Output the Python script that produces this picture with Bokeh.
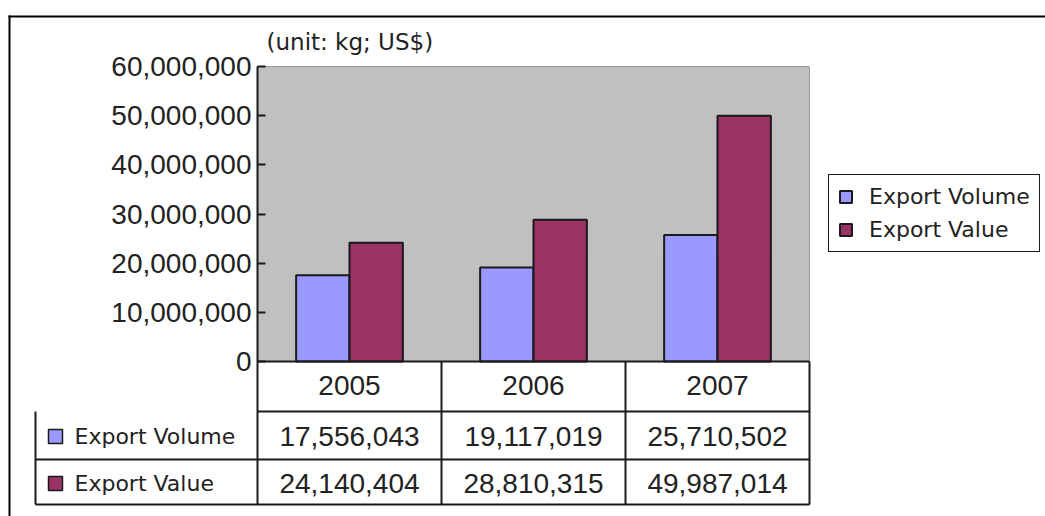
from bokeh.plotting import figure
from bokeh.models import (Range1d, NumeralTickFormatter, FixedTicker,
                          Legend, LegendItem, ColumnDataSource)
from bokeh.core.properties import value
from bokeh.embed import file_html
from bokeh.resources import INLINE

# ---- data ----
years = ["2005", "2006", "2007"]
export_volume = [17556043, 19117019, 25710502]
export_value = [24140404, 28810315, 49987014]
series_names = ["Export Volume", "Export Value"]
series_colors = ["#9999FF", "#993366"]
y_ticks = [0, 10000000, 20000000, 30000000, 40000000, 50000000, 60000000]
y_max = 60000000
title_text = "(unit: kg; US$)"

# ---- layout (page pixels) ----
W, H = 1045, 516
PLOT_L, PLOT_R, PLOT_T, PLOT_B = 257, 809, 66, 361
n = len(years)
COL_W = (PLOT_R - PLOT_L) / n
PX_PER_VAL = (PLOT_B - PLOT_T) / y_max
ROW_LINES = [411, 459, 504]          # bottoms of header / row1 / row2
ROW_CENTERS = [436, 483]
TABLE_L = 35
INK = "#1a1a1a"
TXT = "#222222"
NUM_FONT = "Liberation Sans"
LBL_FONT = "DejaVu Sans"

x_start = -PLOT_L / COL_W
x_end = (W - PLOT_L) / COL_W
y_start = -(H - PLOT_B) / PX_PER_VAL
y_end = y_max + PLOT_T / PX_PER_VAL

p = figure(width=W, height=H, x_range=Range1d(x_start, x_end), y_range=Range1d(y_start, y_end),
           output_backend="svg", toolbar_location=None,
           min_border=0, min_border_left=0, min_border_right=0, min_border_top=0,
           min_border_bottom=0,
           background_fill_color="white", border_fill_color="white",
           outline_line_color=None)
p.extra_x_ranges = {"px": Range1d(0, W)}
p.extra_y_ranges = {"px": Range1d(H, 0)}
p.xgrid.grid_line_color = None
p.ygrid.grid_line_color = None

# gray plot area
p.quad(left=[0], right=[n], bottom=[0], top=[y_max], fill_color="#C0C0C0",
       line_color="#9a9a9a", line_width=1)

idx = list(range(n))
src = ColumnDataSource(dict(
    xv=[i + 0.5 - 0.145 for i in idx], xw=[i + 0.5 + 0.145 for i in idx],
    vol=export_volume, val=export_value))
r1 = p.vbar(x="xv", top="vol", width=0.29, source=src,
            fill_color=series_colors[0], line_color=INK, line_width=2)
r2 = p.vbar(x="xw", top="val", width=0.29, source=src,
            fill_color=series_colors[1], line_color=INK, line_width=2)

# y axis at the left edge of the plot area
yax = p.yaxis[0]
yax.fixed_location = 0
yax.bounds = (0, y_max)
yax.ticker = FixedTicker(ticks=y_ticks)
yax.formatter = NumeralTickFormatter(format="0,0")
yax.major_label_text_font = NUM_FONT
yax.major_label_text_font_size = "28px"
yax.major_label_text_color = TXT
yax.axis_line_color = INK
yax.axis_line_width = 2
yax.major_tick_line_color = INK
yax.major_tick_line_width = 2
yax.major_tick_in = 8
yax.major_tick_out = 0
yax.minor_tick_line_color = None
yax.major_label_standoff = 6

# x axis (category labels) at value 0
xax = p.xaxis[0]
xax.fixed_location = 0
xax.bounds = (0, n)
cat_ticks = [i + 0.5 for i in idx]
xax.ticker = FixedTicker(ticks=cat_ticks)
xax.major_label_overrides = {t: y for t, y in zip(cat_ticks, years)}
xax.axis_line_color = INK
xax.axis_line_width = 2
xax.major_tick_line_color = None
xax.minor_tick_line_color = None
xax.major_label_text_font = NUM_FONT
xax.major_label_text_font_size = "28px"
xax.major_label_text_color = TXT
xax.major_label_standoff = 8

# title text
p.text(x=[266], y=[41], text=[title_text], x_range_name="px", y_range_name="px",
       text_font=value(LBL_FONT), text_font_size="23px", text_color=TXT,
       text_baseline="middle", text_align="left")

# legend
legend = Legend(items=[LegendItem(label=series_names[0], renderers=[r1]),
                       LegendItem(label=series_names[1], renderers=[r2])],
                location=(828, H - 252), margin=0, padding=9, spacing=8,
                glyph_width=15, glyph_height=15, label_standoff=16, label_height=22,
                label_text_font=LBL_FONT, label_text_font_size="22px",
                label_text_color=TXT,
                border_line_color=INK, border_line_width=1.5, border_line_alpha=1,
                background_fill_color="white", background_fill_alpha=1)
p.add_layout(legend)

# outer frame (top and left rules)
p.multi_line(xs=[[8, W], [9, 9]], ys=[[16, 16], [15, H]], x_range_name="px",
             y_range_name="px", line_color="black", line_width=2)

# table: vertical rules of the year columns (data x), horizontal rules (px)
p.segment(x0=list(range(n + 1)), x1=list(range(n + 1)),
          y0=[PLOT_B] * (n + 1), y1=[ROW_LINES[-1]] * (n + 1),
          y_range_name="px", line_color=INK, line_width=2)
p.segment(x0=[PLOT_L, TABLE_L, TABLE_L], x1=[PLOT_R] * 3, y0=ROW_LINES, y1=ROW_LINES,
          x_range_name="px", y_range_name="px", line_color=INK, line_width=2)
p.segment(x0=[TABLE_L], x1=[TABLE_L], y0=[ROW_LINES[0]], y1=[ROW_LINES[-1]],
          x_range_name="px", y_range_name="px", line_color=INK, line_width=2)

rows = [export_volume, export_value]
for k, vals in enumerate(rows):
    cy = ROW_CENTERS[k]
    p.rect(x=[55], y=[cy], width=14, height=14, x_range_name="px", y_range_name="px",
           fill_color=series_colors[k], line_color=INK, line_width=1.5)
    p.text(x=[74], y=[cy], text=[series_names[k]], x_range_name="px", y_range_name="px",
           text_font=value(LBL_FONT), text_font_size="22px", text_color=TXT,
           text_baseline="middle", text_align="left")
    p.text(x=[i + 0.5 for i in idx], y=[cy] * n, text=[f"{v:,}" for v in vals],
           y_range_name="px", text_font=value(NUM_FONT), text_font_size="28px",
           text_color=TXT, text_baseline="middle", text_align="center")

open("out.html", "w").write(file_html(p, INLINE))
